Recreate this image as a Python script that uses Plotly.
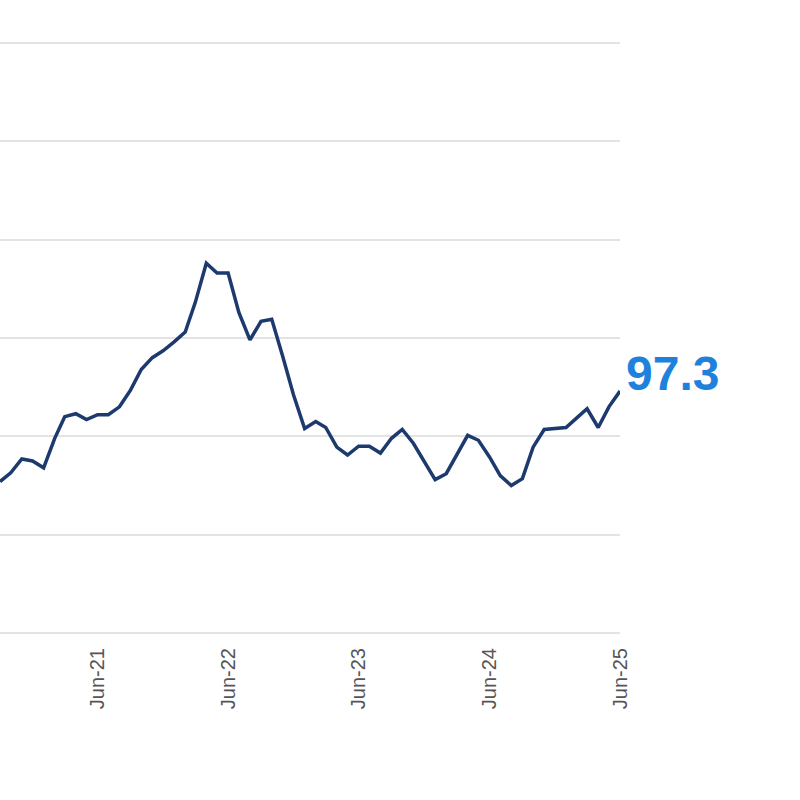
import pandas as pd
import plotly.graph_objects as go

# monthly index, Sep-2020 .. Jun-2025
months = pd.date_range("2020-09-01", "2025-06-01", freq="MS")
values = [
    92.7, 93.15, 93.85, 93.75, 93.4, 94.9, 96.0, 96.15, 95.85, 96.1,
    96.1, 96.5, 97.35, 98.4, 99.0, 99.35, 99.8, 100.3, 101.8, 103.8,
    103.3, 103.3, 101.3, 99.9, 100.85, 100.95, 99.05, 97.1, 95.4, 95.75,
    95.45, 94.45, 94.05, 94.5, 94.5, 94.15, 94.9, 95.35, 94.65, 93.7,
    92.8, 93.1, 94.05, 95.05, 94.8, 93.95, 93.0, 92.5, 92.85, 94.45,
    95.35, 95.4, 95.45, 95.95, 96.4, 95.45, 96.5, 97.3,
]
tick_dates = ["2021-06-01", "2022-06-01", "2023-06-01", "2024-06-01", "2025-06-01"]
grid_levels = [85, 90, 95, 100, 105, 110, 115]
last_label = "97.3"

fig = go.Figure()
fig.add_trace(
    go.Scatter(
        x=months,
        y=values,
        mode="lines",
        line=dict(color="#1d3a6e", width=3.5),
        hoverinfo="skip",
        cliponaxis=False,
    )
)

fig.add_annotation(
    x=months[-1],
    y=values[-1],
    text=f"<b>{last_label}</b>",
    showarrow=False,
    xanchor="left",
    yanchor="middle",
    xshift=4,
    yshift=18,
    font=dict(family="Liberation Sans, Arial", size=48, color="#1e82dc"),
)

fig.update_layout(
    width=800,
    height=800,
    margin=dict(l=0, r=180, t=41, b=165),
    plot_bgcolor="white",
    paper_bgcolor="white",
    showlegend=False,
    font=dict(family="Liberation Sans, Arial", color="#555555"),
    xaxis=dict(
        range=[months[0], months[-1]],
        tickvals=tick_dates,
        tickformat="%b-%y",
        tickangle=-90,
        tickfont=dict(size=20, color="#555555"),
        showgrid=False,
        zeroline=False,
        showline=False,
        ticks="",
        ticklabelstandoff=8,
    ),
    yaxis=dict(
        range=[84.9, 115.1],
        tickvals=grid_levels,
        showticklabels=False,
        showgrid=True,
        gridcolor="#e3e3e3",
        gridwidth=2,
        zeroline=False,
        showline=False,
        ticks="",
    ),
)

fig.write_html(
    "out.html",
    config={"displayModeBar": False},
    post_script="document.body.style.margin='0';",
)
